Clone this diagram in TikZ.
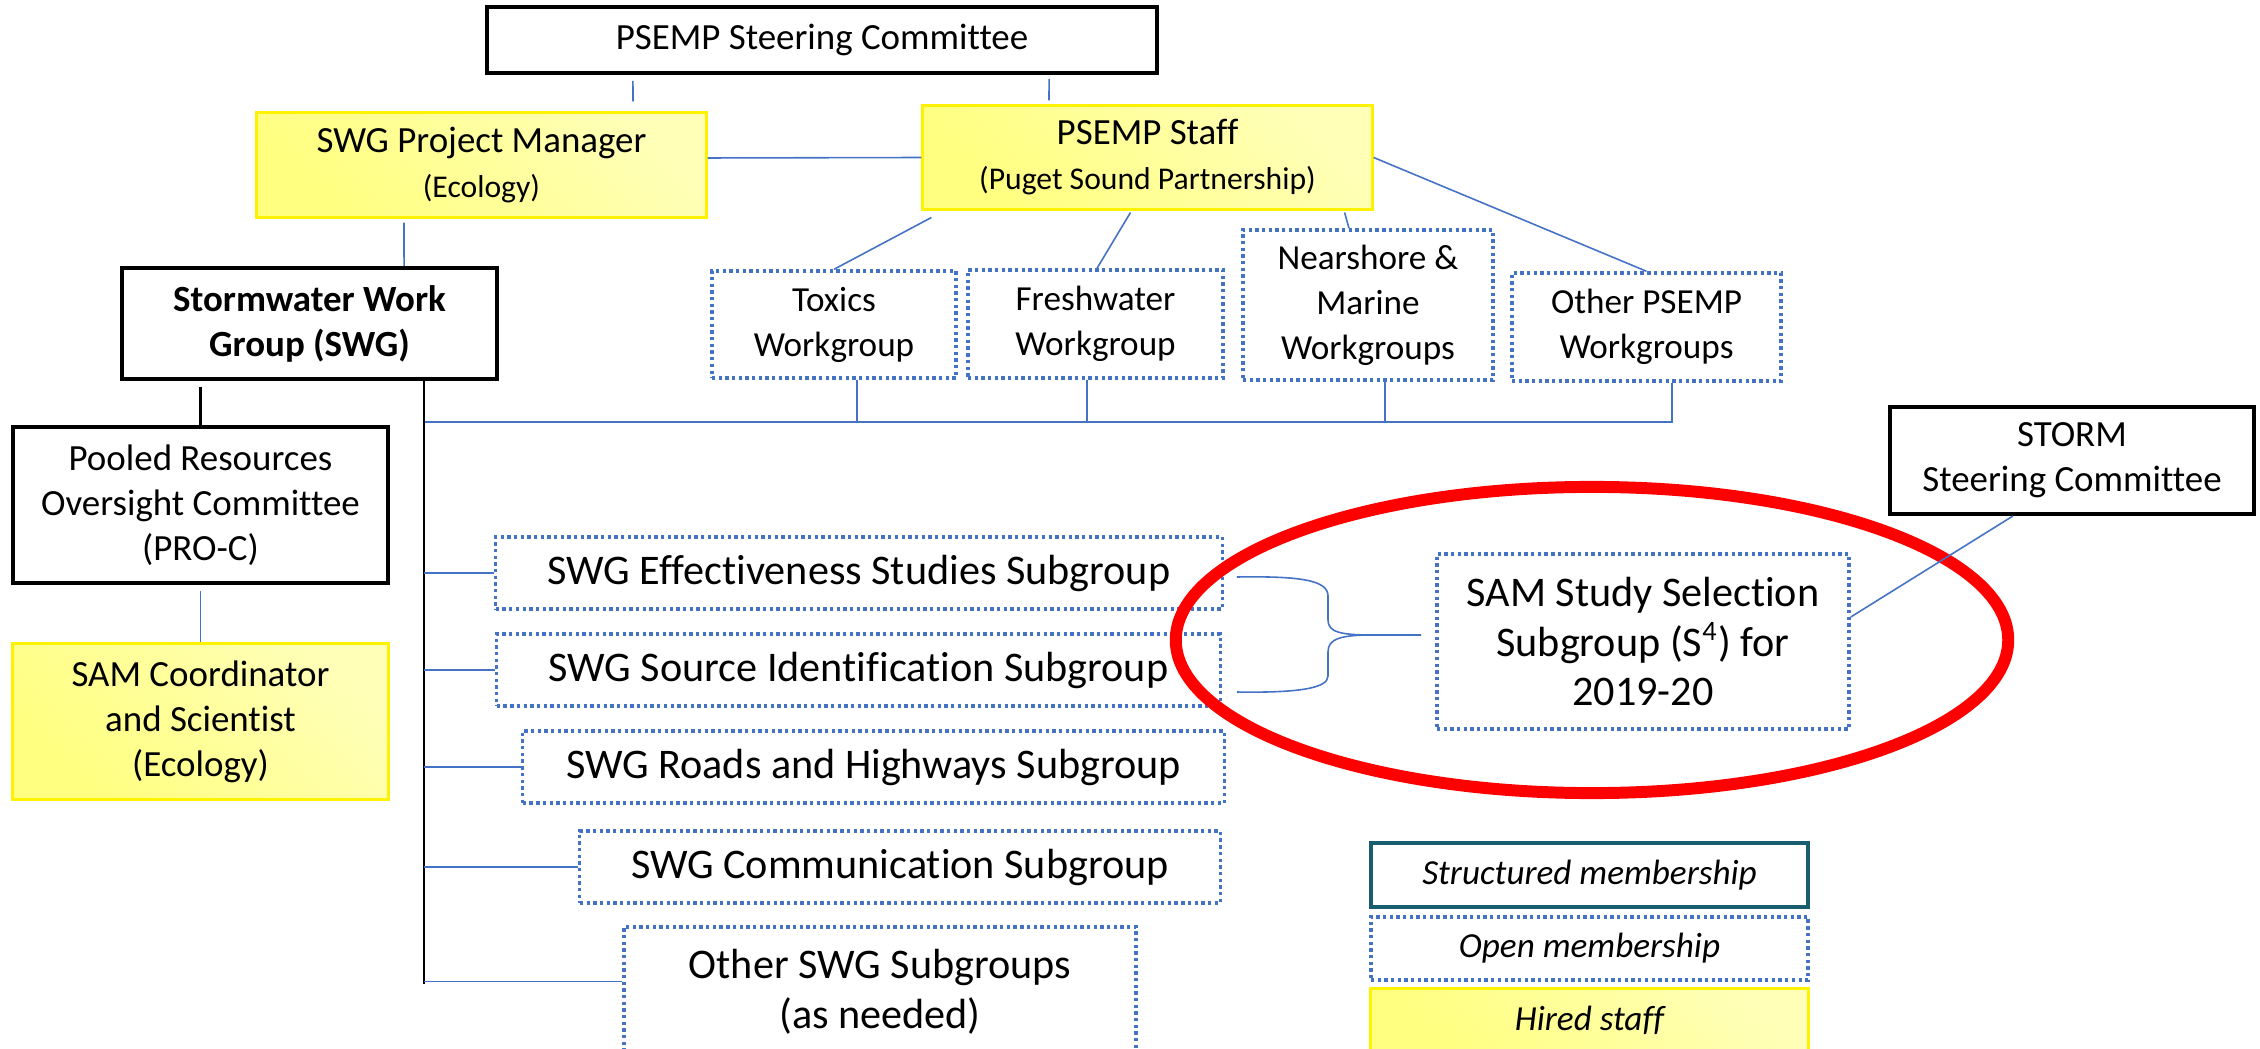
\documentclass[tikz,border=0pt]{standalone}
\usepackage{fontspec}
\setmainfont{Carlito}[Ligatures=NoCommon]
\usepackage{tikz}
\usetikzlibrary{calc}
\definecolor{linkblue}{RGB}{68,114,196}
\definecolor{legteal}{RGB}{24,94,110}
\newcommand{\bigtxt}{\fontsize{12}{14.2}\selectfont}
\newcommand{\midtxt}{\fontsize{10.5}{12.8}\selectfont}
\newcommand{\wgtxt}{\fontsize{10}{12.8}\selectfont}
\newcommand{\smtxt}{\fontsize{9}{11}\selectfont}
\tikzset{
  orgbox/.style={rectangle, align=center, inner sep=0pt, font=\midtxt},
  structbox/.style={orgbox, draw=black, line width=1.1pt},
  openbox/.style={orgbox, draw=linkblue, line width=0.95pt, dash pattern=on 0.95pt off 0.95pt},
  staffbox/.style={orgbox, draw=yellow, line width=0.85pt, top color=yellow!28, bottom color=yellow!50, shading angle=-45},
  link/.style={linkblue, line width=0.45pt},
  spine/.style={black, line width=0.8pt},
}

\begin{document}
\begin{tikzpicture}[x=0.01cm, y=-0.01cm]
    \useasboundingbox (0,0) rectangle (2260,1049);
    \node[structbox, minimum width=6.7cm, minimum height=0.66cm] (pscom) at (822,40) {PSEMP Steering Committee};
    \node[staffbox, minimum width=4.49cm, minimum height=1.04cm] (swgpm) at (481.5,165) {SWG Project Manager\\{\smtxt (Ecology)}};
    \node[staffbox, minimum width=4.49cm, minimum height=1.03cm] (pstaff) at (1147.5,157.5) {PSEMP Staff\\{\smtxt (Puget Sound Partnership)}};
    \node[structbox, font=\midtxt\bfseries, minimum width=3.75cm, minimum height=1.11cm] (swg) at (309.5,323.5) {Stormwater Work\\Group (SWG)};
    \node[openbox, font=\wgtxt, minimum width=2.44cm, minimum height=1.07cm] (toxics) at (834,324.5) {Toxics\\Workgroup};
    \node[openbox, font=\wgtxt, minimum width=2.55cm, minimum height=1.08cm] (fresh) at (1095.5,324) {Freshwater\\Workgroup};
    \node[openbox, font=\wgtxt, minimum width=2.5cm, minimum height=1.5cm] (nearshore) at (1368,305) {Nearshore \&\\Marine\\Workgroups};
    \node[openbox, font=\wgtxt, minimum width=2.69cm, minimum height=1.08cm] (otherps) at (1646.5,327) {Other PSEMP\\Workgroups};
    \node[structbox, minimum width=3.75cm, minimum height=1.56cm] (proc) at (200.5,505) {Pooled Resources\\Oversight Committee\\(PRO-C)};
    \node[staffbox, minimum width=3.75cm, minimum height=1.55cm] (samcoord) at (200.5,721.5) {SAM Coordinator\\and Scientist\\(Ecology)};
    \node[openbox, font=\bigtxt, minimum width=7.26cm, minimum height=0.72cm] (effect) at (859,573) {SWG Effectiveness Studies Subgroup};
    \node[openbox, font=\bigtxt, minimum width=7.23cm, minimum height=0.72cm] (sourceid) at (858.5,670) {SWG Source Identification Subgroup};
    \node[openbox, font=\bigtxt, minimum width=7.01cm, minimum height=0.72cm] (roads) at (873.5,767) {SWG Roads and Highways Subgroup};
    \node[openbox, font=\bigtxt, minimum width=6.4cm, minimum height=0.72cm] (comm) at (900,867) {SWG Communication Subgroup};
    \node[openbox, font=\bigtxt, minimum width=5.12cm, minimum height=1.3cm] (othersw) at (880,992) {Other SWG Subgroups\\(as needed)};
    \node[openbox, font=\bigtxt, minimum width=4.12cm, minimum height=1.75cm] (s4) at (1643,641.5) {SAM Study Selection\\Subgroup (S\textsuperscript{4}) for\\2019-20};
    \node[structbox, minimum width=3.64cm, minimum height=1.07cm] (storm) at (2072,460.5) {STORM\\Steering Committee};
    \node[orgbox, draw=legteal, line width=1.1pt, font=\wgtxt\itshape, minimum width=4.37cm, minimum height=0.64cm] (legstruct) at (1589.5,875) {Structured membership};
    \node[openbox, font=\wgtxt\itshape, minimum width=4.37cm, minimum height=0.63cm] (legopen) at (1589.5,948.5) {Open membership};
    \node[staffbox, font=\wgtxt\itshape, minimum width=4.37cm, minimum height=0.62cm] (leghired) at (1589.5,1020) {Hired staff};
    \draw[link, shorten <=0.06cm, shorten >=0.1cm] ([xshift=-1.89cm]pscom.south) -- ([xshift=1.515cm]swgpm.north);
    \draw[link, shorten <=0.04cm, shorten >=0.04cm] ([xshift=2.27cm]pscom.south) -- ([xshift=-0.985cm]pstaff.north);
    \draw[link] ([yshift=0.07cm]swgpm.east) -- (pstaff.west);
    \draw[link, shorten <=0.04cm] ([xshift=-0.775cm]swgpm.south) -- ([xshift=0.945cm]swg.north);
    \draw[link] ([xshift=0.1cm,yshift=-0.07cm]pstaff.south west) -- (toxics.north);
    \draw[link] ([xshift=-0.17cm,yshift=-0.02cm]pstaff.south) -- ([xshift=0.015cm]fresh.north);
    \draw[link] ([xshift=-0.29cm,yshift=-0.02cm]pstaff.south east) -- ([xshift=-0.19cm]nearshore.north);
    \draw[link] (pstaff.east) -- (otherps.north);
    \coordinate (busL) at (424,422);
    \coordinate (busR) at (1673,422);
    \coordinate (spineB) at (424,984);
    \draw[link] (busL) -- (busR);
    \foreach \n/\dx in {toxics/0.23, fresh/-0.085, nearshore/0.17, otherps/0.255} {
        \coordinate (r\n) at ([xshift=\dx cm]\n.south);
        \draw[link] (r\n) -- (r\n |- busL);
    }
    \draw[spine] (swg.south -| busL) -- (spineB);
    \draw[spine, shorten <=0.06cm] (swg.south -| proc.north) -- (proc.north);
    \draw[link, shorten <=0.06cm] (proc.south) -- (samcoord.north);
    \foreach \n in {effect, sourceid, roads, comm}
        \draw[link] (\n.west -| busL) -- (\n.west);
    \coordinate (othersbr) at ([yshift=0.105cm]othersw.west);
    \draw[link] (othersbr -| busL) -- (othersbr);
    \coordinate (braceT) at ([xshift=-0.14cm,yshift=0.065cm]s4.west);
    \draw[link] ([xshift=0.13cm,yshift=-0.04cm]effect.east) .. controls (1300,576) and (1328,580) .. (1328,596) -- (1328,620) .. controls (1328,632) and (1340,635) .. (1372,635) -- (braceT);
    \draw[link] ([xshift=0.15cm,yshift=-0.22cm]sourceid.east) .. controls (1300,693) and (1328,688) .. (1328,676) -- (1328,652) .. controls (1328,639) and (1340,635) .. (1372,635);
    \draw[red, line width=3.4pt] (1592,640) ellipse [x radius=4.16cm, y radius=1.53cm];
    \draw[link] ([xshift=-0.59cm]storm.south) -- ([yshift=0.245cm]s4.east);
\end{tikzpicture}
\end{document}
